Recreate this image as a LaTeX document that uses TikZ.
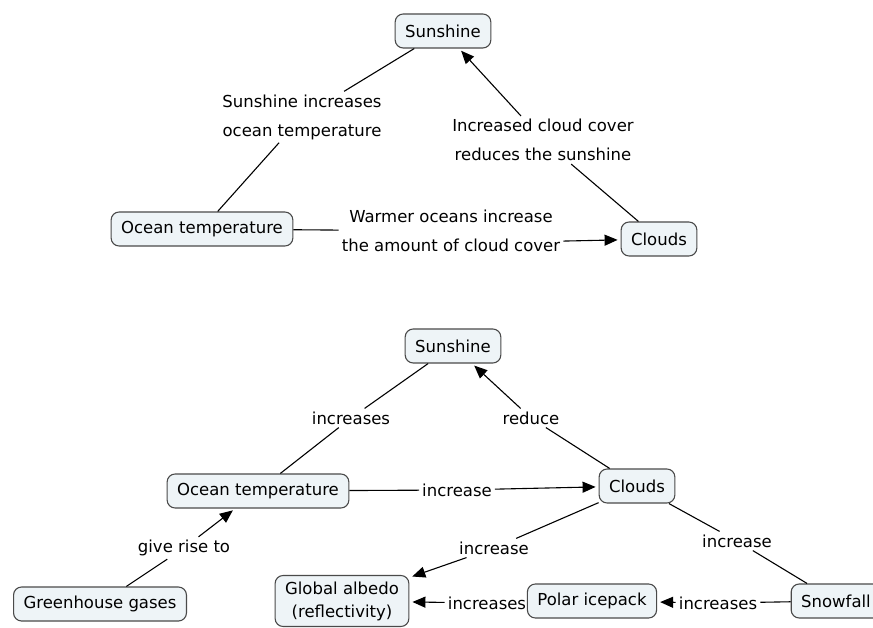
\documentclass[tikz,border=0pt]{standalone}
\usepackage{fontspec}
\setmainfont{DejaVu Sans}
\usetikzlibrary{arrows.meta}
\definecolor{conceptFill}{HTML}{EEF4F7}
\definecolor{conceptLine}{HTML}{4A4A4A}

\begin{document}
\begin{tikzpicture}[
  x=1pt, y=-1pt,
  >={Triangle[length=13pt,width=11pt]},
  %% Node styles
  concept/.style={
    rectangle, rounded corners=8pt, draw=conceptLine, fill=conceptFill,
    line width=1.1pt, minimum height=34pt, inner xsep=10pt, inner ysep=4pt,
    align=center, font=\fontsize{16.5}{23}\selectfont
  },
  linkword/.style={
    inner sep=3pt, align=center, font=\fontsize{16.5}{29}\selectfont
  },
  %% Connector styles
  link/.style={line width=1.1pt, draw=black},
  linkarrow/.style={->, line width=1.1pt, draw=black, shorten >=3pt},
]
\useasboundingbox (0,0) rectangle (873,628);

%% ── First map ──────────────────────────────────────────────────────────────
\node[concept] (sunA)   at (443,31)  {Sunshine};
\node[concept] (oceanA) at (202,229) {Ocean temperature};
\node[concept] (cloudA) at (659,239) {Clouds};

\node[linkword] (heatA)  at (302,117) {Sunshine increases\\ocean temperature};
\node[linkword] (shadeA) at (543,140) {Increased cloud cover\\reduces the sunshine};
\node[linkword] (warmA)  at (451,231) {Warmer oceans increase\\the amount of cloud cover};

\draw[link]      (sunA)   -- (heatA);
\draw[link]      (heatA)  -- (oceanA);
\draw[link]      (cloudA) -- (shadeA);
\draw[linkarrow] (shadeA) -- (sunA);
\draw[link]      (oceanA) -- (warmA);
\draw[linkarrow] (warmA.south east) ++(0,-14) coordinate (warmEnd)
                 (warmEnd) -- (cloudA);

%% ── Second map ─────────────────────────────────────────────────────────────
\node[concept] (sunB)    at (453,346) {Sunshine};
\node[concept] (oceanB)  at (258,491) {Ocean temperature};
\node[concept] (cloudB)  at (637,486) {Clouds};
\node[concept] (green)   at (100,604) {Greenhouse gases};
\node[concept, minimum height=51pt] (albedo) at (342,601) {Global albedo\\(reflectivity)};
\node[concept] (polar)   at (592,601) {Polar icepack};
\node[concept] (snow)    at (836,601) {Snowfall};

\node[linkword] (incB)    at (351,418) {increases};
\node[linkword] (redB)    at (531,418) {reduce};
\node[linkword] (warmB)   at (457,490) {increase};
\node[linkword] (riseB)   at (184,548) {give rise to};
\node[linkword] (albB)    at (494,548) {increase};
\node[linkword] (snowB)   at (737,541) {increase};
\node[linkword] (iceB)    at (487,603) {increases};
\node[linkword] (fallB)   at (718,603) {increases};

\draw[link]      (sunB)   -- (incB);
\draw[link]      (incB)   -- (oceanB);
\draw[link]      (cloudB) -- (redB);
\draw[linkarrow] (redB)   -- (sunB);
\draw[link]      (oceanB) -- (warmB);
\draw[linkarrow] (warmB)  -- (cloudB);
\draw[link]      (green)  -- (riseB);
\draw[linkarrow] (riseB)  -- (oceanB);
\draw[link]      (cloudB) -- (albB);
\draw[linkarrow] (albB)   -- (albedo);
\draw[link]      (cloudB) -- (snowB);
\draw[link]      (snowB)  -- (snow);
\draw[linkarrow] (iceB)   -- (albedo);
\draw[link]      (snow)   -- (fallB);
\draw[linkarrow] (fallB)  -- (polar);

\end{tikzpicture}
\end{document}
